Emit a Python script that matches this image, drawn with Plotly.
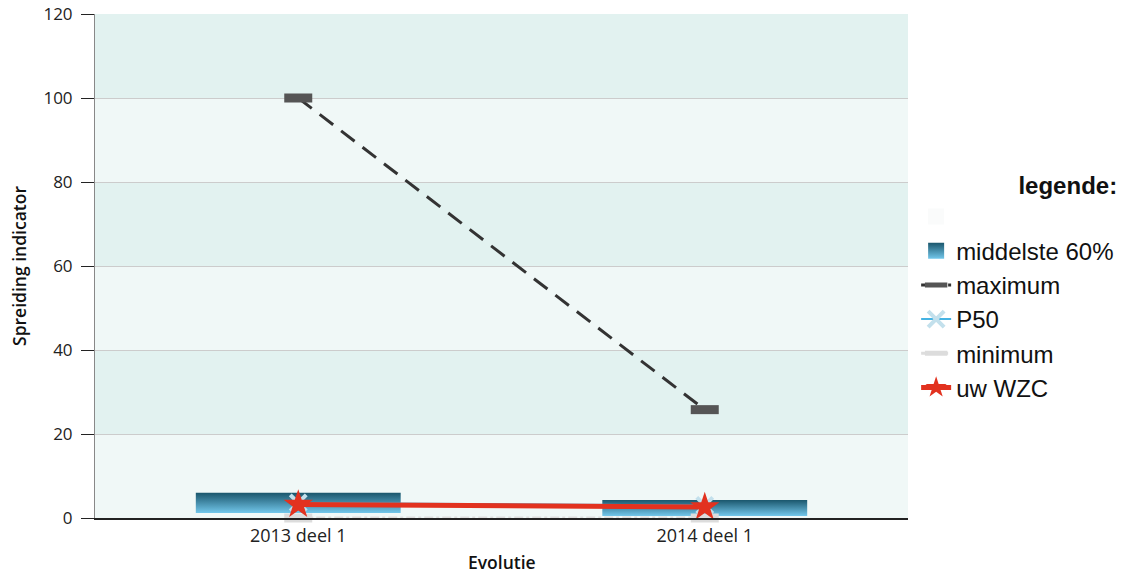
import plotly.graph_objects as go

# Data
categories = ["2013 deel 1", "2014 deel 1"]
p20 = [1.2, 0.5]          # bottom of "middelste 60%"
p80 = [6.0, 4.3]          # top of "middelste 60%"
maximum = [100, 25.8]
p50 = [3.6, 3.0]
minimum = [0, 0]
uw_wzc = [3.2, 2.6]
y_ticks = [0, 20, 40, 60, 80, 100, 120]

xs = list(range(len(categories)))
half_w = 0.252

fig = go.Figure()

# blank first legend entry
fig.add_trace(go.Scatter(
    x=[None], y=[None], mode="markers", name=" ",
    marker=dict(symbol="square", size=18, color="#fafbfb"),
))

# legend-only entry for the gradient boxes
fig.add_trace(go.Scatter(
    x=[None], y=[None], mode="markers", name="middelste 60%",
    marker=dict(symbol="square", size=18, color="#1a566c",
                gradient=dict(type="vertical", color="#72c6ea")),
))

# middelste 60% bars (gradient filled polygons)
for i, x in enumerate(xs):
    fig.add_trace(go.Scatter(
        x=[x - half_w, x + half_w, x + half_w, x - half_w, x - half_w],
        y=[p20[i], p20[i], p80[i], p80[i], p20[i]],
        mode="lines", fill="toself", line=dict(width=0),
        fillgradient=dict(type="vertical",
                          colorscale=[[0, "#72c6ea"], [1, "#1a566c"]]),
        name="middelste 60%", showlegend=False,
        hoverinfo="skip",
    ))

fig.add_trace(go.Scatter(
    x=xs, y=maximum, mode="lines+markers", name="maximum",
    line=dict(color="#333333", width=3, dash="17px,10px"),
    marker=dict(symbol="line-ew", size=20, line=dict(width=9, color="#555555")),
    cliponaxis=False,
))

fig.add_trace(go.Scatter(
    x=xs, y=p50, mode="lines+markers", name="P50",
    line=dict(color="#45b3e3", width=2),
    marker=dict(symbol="x-thin", size=16, line=dict(width=4, color="#c3e0ec")),
    cliponaxis=False,
))

fig.add_trace(go.Scatter(
    x=xs, y=minimum, mode="lines+markers", name="minimum",
    line=dict(color="#dddddd", width=3, dash="dashdot"),
    marker=dict(symbol="line-ew", size=20, line=dict(width=9, color="#dcdcdc")),
    cliponaxis=False,
))

fig.add_trace(go.Scatter(
    x=xs, y=uw_wzc, mode="lines+markers", name="uw WZC",
    line=dict(color="#e2321f", width=5),
    marker=dict(symbol="star", size=22, color="#e2321f"),
    cliponaxis=False,
))

# alternating background bands
shapes = []
for k in range(len(y_ticks) - 1):
    if k % 2 == 1:
        shapes.append(dict(type="rect", xref="paper", yref="y", layer="below",
                           x0=0, x1=1, y0=y_ticks[k], y1=y_ticks[k + 1],
                           fillcolor="#e2f2f0", line=dict(width=0)))

# x axis title placed low, close to the page edge
fig.add_annotation(
    text="Evolutie", xref="paper", yref="paper", x=0.5, y=0,
    xanchor="center", yanchor="middle", yshift=-44, showarrow=False,
    font=dict(size=17.5, weight=600, color="#111111"),
)

fig.update_layout(
    width=1122, height=575,
    margin=dict(l=95, r=214, t=14, b=57, autoexpand=False),
    paper_bgcolor="white",
    plot_bgcolor="#f0f8f7",
    shapes=shapes,
    font=dict(family="Open Sans", size=15, color="#222222"),
    xaxis=dict(
        range=[-0.5, 1.5], tickvals=xs, ticktext=categories,
        showgrid=False, zeroline=False, showline=True, automargin=False,
        linecolor="#222222", linewidth=1.5, ticks="",
        tickfont=dict(size=18), ticklabelstandoff=1,
    ),
    yaxis=dict(
        range=[0, 120], tickvals=y_ticks, automargin=False,
        showgrid=True, gridcolor="#cccccc", gridwidth=1,
        zeroline=False, showline=True, linecolor="#888888", linewidth=1,
        ticks="outside", ticklen=13, tickcolor="#222222",
        tickfont=dict(size=17), ticklabelstandoff=5,
        title=dict(text="Spreiding indicator", standoff=12,
                   font=dict(size=17.5, weight=600, color="#111111")),
    ),
    legend=dict(
        x=1.01, y=0.704, xanchor="left", yanchor="top",
        font=dict(family="Liberation Sans", size=24, color="#111111"),
        title=dict(text="<b>legende:</b>", side="top right",
                   font=dict(family="Liberation Sans", size=24)),
        bgcolor="rgba(0,0,0,0)", itemwidth=30, tracegroupgap=0,
    ),
)

fig.write_html("out.html", config={"displayModeBar": False},
               post_script="document.body.style.margin='0';")
